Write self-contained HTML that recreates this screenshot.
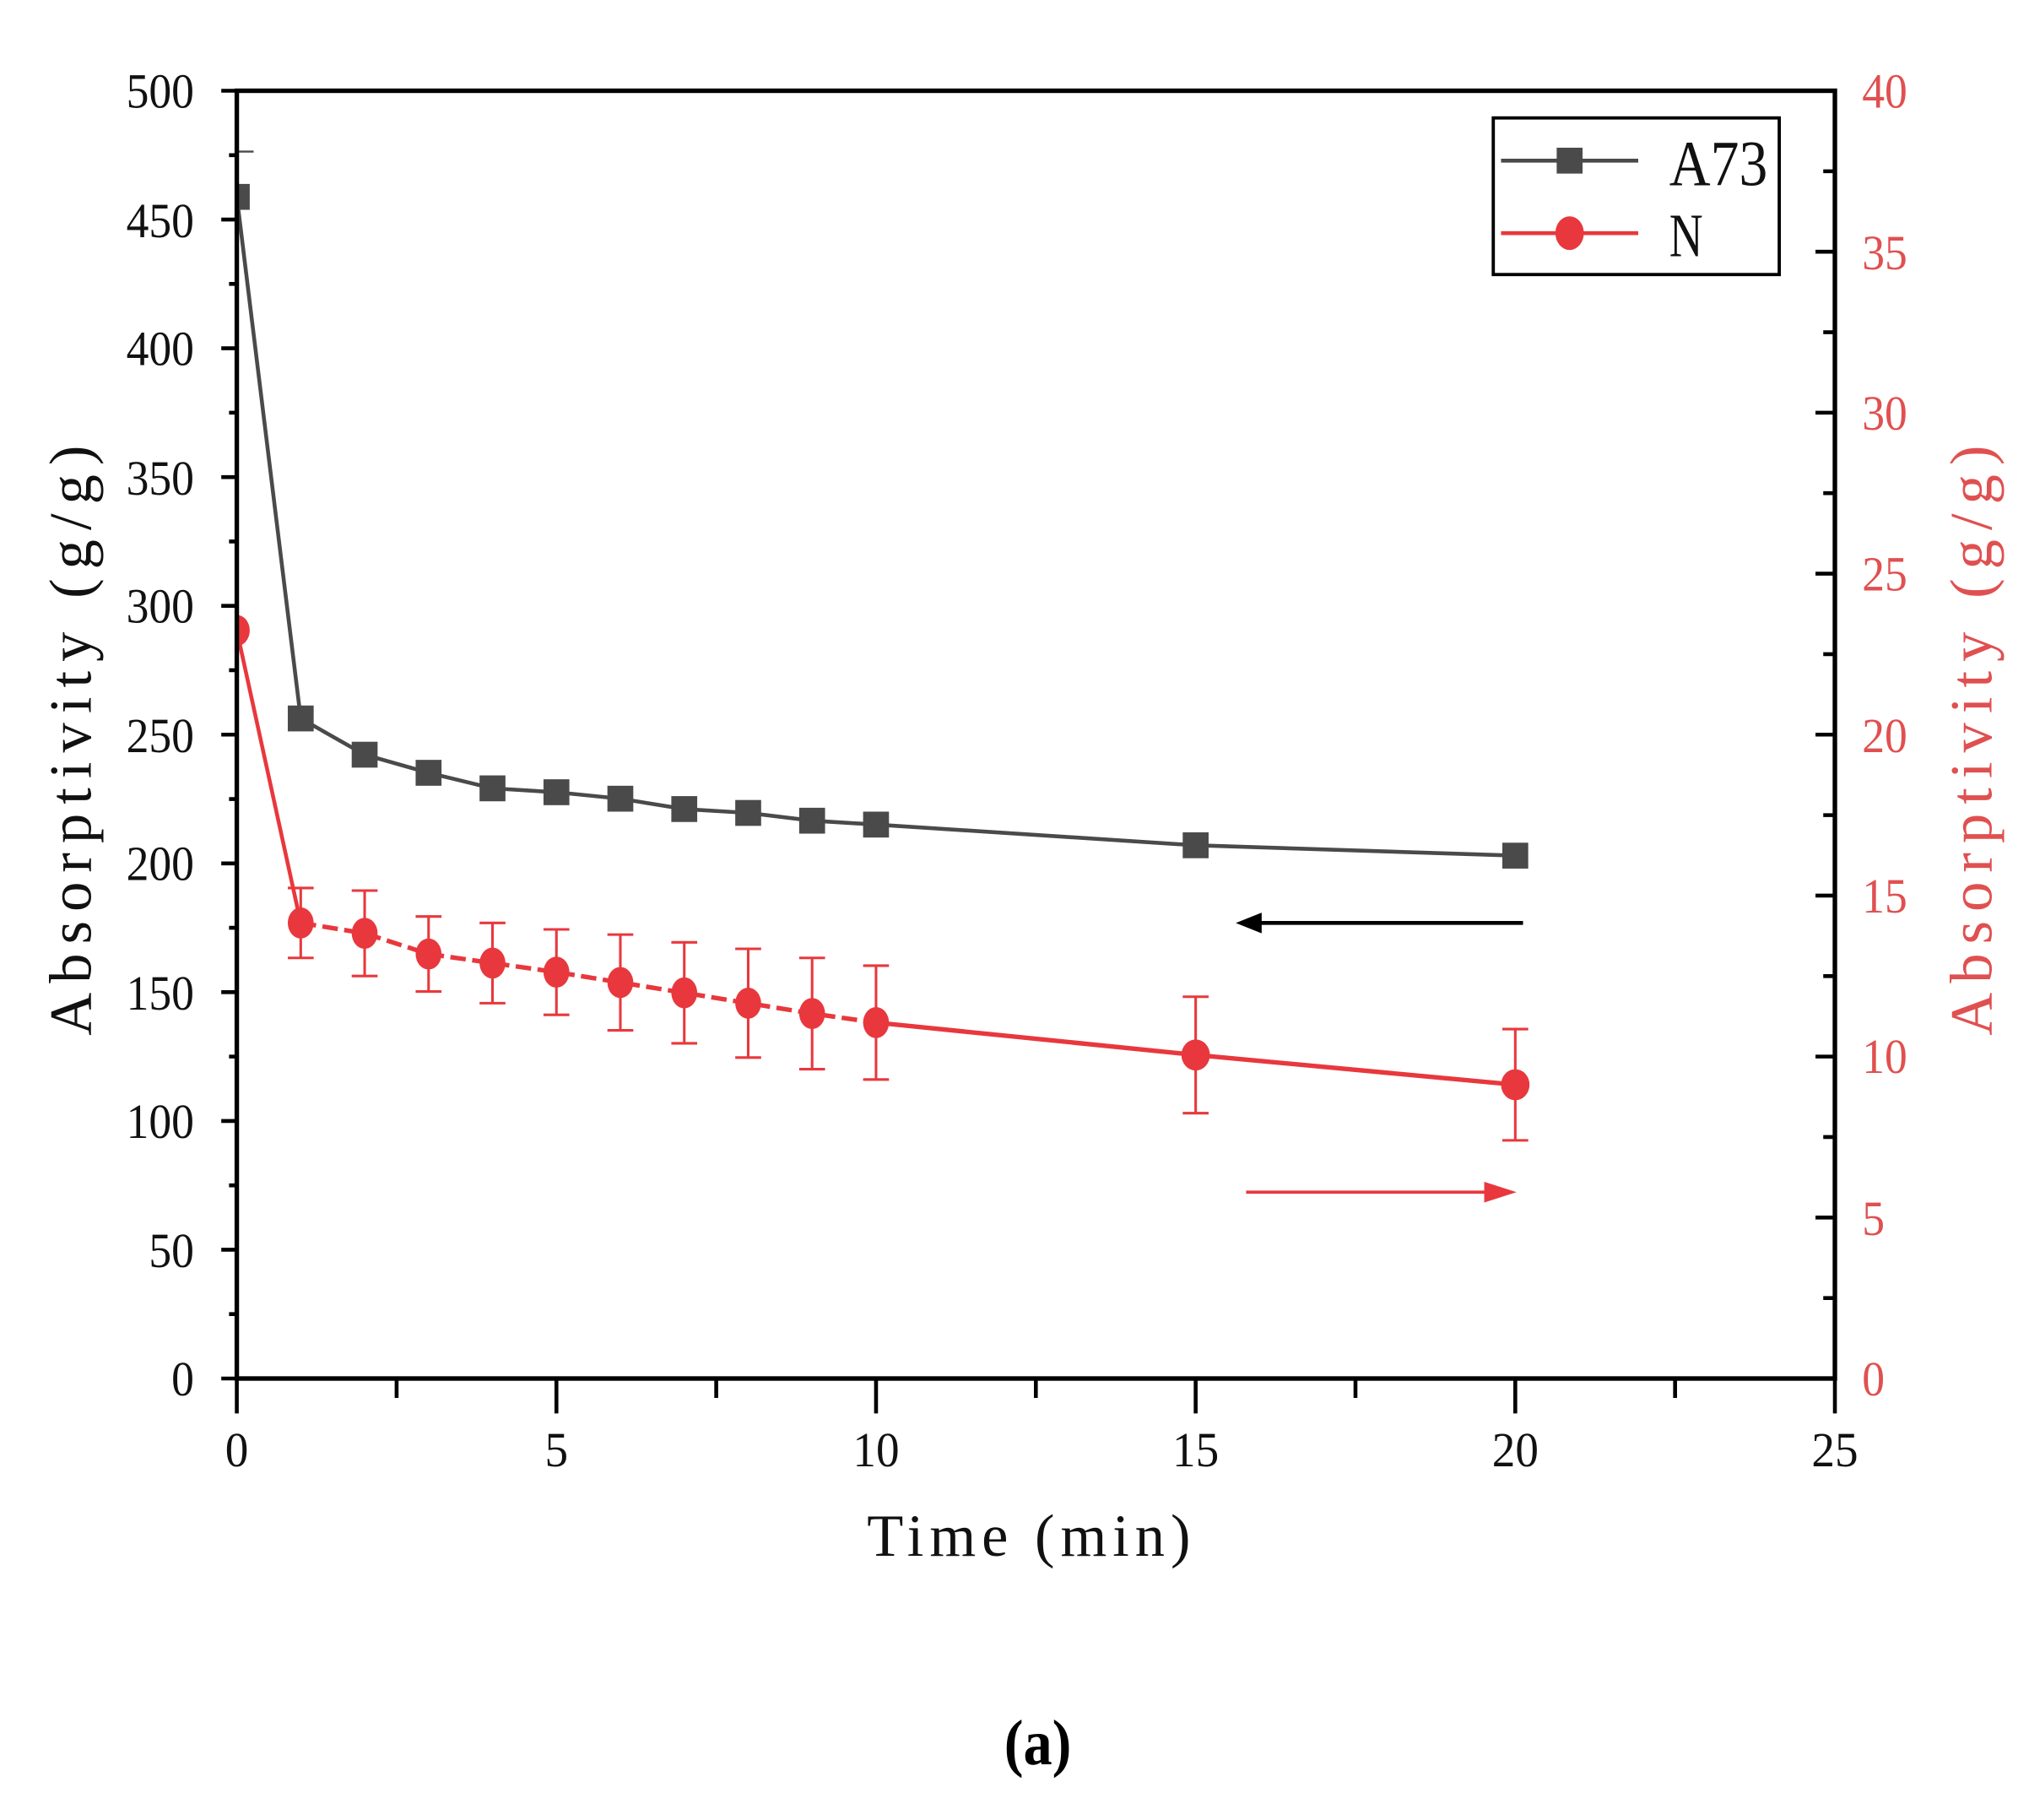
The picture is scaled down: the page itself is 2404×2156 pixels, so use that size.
<!DOCTYPE html>
<html><head><meta charset="utf-8"><style>html,body{margin:0;padding:0;background:#fff}svg{display:block}</style></head>
<body>
<svg xmlns="http://www.w3.org/2000/svg" width="2404" height="2156" viewBox="0 0 1568 1406" font-family="Liberation Serif, serif">
<defs><clipPath id="c"><rect x="183" y="70" width="1235" height="995"/></clipPath></defs>
<rect width="1568" height="1406" fill="#fff"/>
<g clip-path="url(#c)">
<polyline fill="none" stroke="#4a4a4a" stroke-width="3" points="183,152 232.4,555 281.8,583 331.2,597 380.6,609 430,612 479.4,617 528.8,625 578.2,628 627.6,634 677,637 924,653 1171,661"/>
<g fill="#4a4a4a">
<rect x="173" y="142" width="20" height="20"/>
<rect x="222.4" y="545" width="20" height="20"/><rect x="271.8" y="573" width="20" height="20"/>
<rect x="321.2" y="587" width="20" height="20"/><rect x="370.6" y="599" width="20" height="20"/>
<rect x="420" y="602" width="20" height="20"/><rect x="469.4" y="607" width="20" height="20"/>
<rect x="518.8" y="615" width="20" height="20"/><rect x="568.2" y="618" width="20" height="20"/>
<rect x="617.6" y="624" width="20" height="20"/><rect x="667" y="627" width="20" height="20"/>
<rect x="914" y="643" width="20" height="20"/><rect x="1161" y="651" width="20" height="20"/>
</g>
<line x1="183" y1="117" x2="196" y2="117" stroke="#4a4a4a" stroke-width="1.5"/>
<polyline fill="none" stroke="#e8383d" stroke-width="3" points="183,487 232.4,713"/>
<polyline fill="none" stroke="#e8383d" stroke-width="3.5" stroke-dasharray="12,5" points="232.4,713 281.8,721 331.2,737 380.6,744 430,751 479.4,759 528.8,767 578.2,775 627.6,783 677,790"/>
<polyline fill="none" stroke="#e8383d" stroke-width="3.5" points="677,790 924,815 1171,838"/>
<g stroke="#e8383d" stroke-width="2" fill="none">
<path d="M232.4,686V740M222.4,686H242.4M222.4,740H242.4"/>
<path d="M281.8,688V754M271.8,688H291.8M271.8,754H291.8"/>
<path d="M331.2,708V766M321.2,708H341.2M321.2,766H341.2"/>
<path d="M380.6,713V775M370.6,713H390.6M370.6,775H390.6"/>
<path d="M430,718V784M420,718H440M420,784H440"/>
<path d="M479.4,722V796M469.4,722H489.4M469.4,796H489.4"/>
<path d="M528.8,728V806M518.8,728H538.8M518.8,806H538.8"/>
<path d="M578.2,733V817M568.2,733H588.2M568.2,817H588.2"/>
<path d="M627.6,740V826M617.6,740H637.6M617.6,826H637.6"/>
<path d="M677,746V834M667,746H687M667,834H687"/>
<path d="M924,770V860M914,770H934M914,860H934"/>
<path d="M1171,795V881M1161,795H1181M1161,881H1181"/>
</g>
<g fill="#e8383d">
<ellipse cx="183" cy="487" rx="10" ry="12"/>
<ellipse cx="232.4" cy="713" rx="10" ry="12"/><ellipse cx="281.8" cy="721" rx="10" ry="12"/>
<ellipse cx="331.2" cy="737" rx="10" ry="12"/><ellipse cx="380.6" cy="744" rx="10" ry="12"/>
<ellipse cx="430" cy="751" rx="10" ry="12"/><ellipse cx="479.4" cy="759" rx="10" ry="12"/>
<ellipse cx="528.8" cy="767" rx="10" ry="12"/><ellipse cx="578.2" cy="775" rx="10" ry="12"/>
<ellipse cx="627.6" cy="783" rx="10" ry="12"/><ellipse cx="677" cy="790" rx="10" ry="12"/>
<ellipse cx="924" cy="815" rx="11" ry="12"/><ellipse cx="1171" cy="838" rx="11" ry="12"/>
</g>
</g>
<rect x="183" y="70" width="1235" height="995" fill="none" stroke="#000" stroke-width="3.5"/>
<g stroke="#000" stroke-width="3">
<path d="M171,70H183M171,169.5H183M171,269H183M171,368.5H183M171,468H183M171,567.5H183M171,667H183M171,766.5H183M171,866H183M171,965.5H183M171,1065H183"/>
<path d="M177,119.75H183M177,219.25H183M177,318.75H183M177,418.25H183M177,517.75H183M177,617.25H183M177,716.75H183M177,816.25H183M177,915.75H183M177,1015.25H183"/>
<path d="M1418,70H1403M1418,194.4H1403M1418,318.75H1403M1418,443.1H1403M1418,567.5H1403M1418,691.9H1403M1418,816.25H1403M1418,940.6H1403"/>
<path d="M1418,132.2H1409M1418,256.6H1409M1418,380.9H1409M1418,505.3H1409M1418,629.7H1409M1418,754.1H1409M1418,878.4H1409M1418,1002.8H1409"/>
<path d="M183,1065V1092M430,1065V1092M677,1065V1092M924,1065V1092M1171,1065V1092M1418,1065V1092"/>
<path d="M306.5,1065V1080M553.5,1065V1080M800.5,1065V1080M1047.5,1065V1080M1294.5,1065V1080"/>
</g>
<g font-size="38" text-anchor="end" fill="#111" transform="translate(150,0) scale(0.92,1) translate(-150,0)">
<text x="150" y="83">500</text><text x="150" y="183">450</text><text x="150" y="282">400</text>
<text x="150" y="382">350</text><text x="150" y="481">300</text><text x="150" y="581">250</text>
<text x="150" y="680">200</text><text x="150" y="780">150</text><text x="150" y="879">100</text>
<text x="150" y="979">50</text><text x="150" y="1078">0</text>
</g>
<g font-size="38" fill="#e05050" transform="translate(1439,0) scale(0.92,1) translate(-1439,0)">
<text x="1439" y="83">40</text><text x="1439" y="208">35</text><text x="1439" y="332">30</text>
<text x="1439" y="456">25</text><text x="1439" y="581">20</text><text x="1439" y="705">15</text>
<text x="1439" y="829">10</text><text x="1439" y="954">5</text><text x="1439" y="1078">0</text>
</g>
<g font-size="38" text-anchor="middle" fill="#111">
<text x="183" y="1133" textLength="18" lengthAdjust="spacingAndGlyphs">0</text><text x="430" y="1133" textLength="18" lengthAdjust="spacingAndGlyphs">5</text><text x="677" y="1133" textLength="36" lengthAdjust="spacingAndGlyphs">10</text>
<text x="924" y="1133" textLength="36" lengthAdjust="spacingAndGlyphs">15</text><text x="1171" y="1133" textLength="36" lengthAdjust="spacingAndGlyphs">20</text><text x="1418" y="1133" textLength="36" lengthAdjust="spacingAndGlyphs">25</text>
</g>
<text x="795" y="1202" font-size="46" text-anchor="middle" textLength="250" lengthAdjust="spacing" fill="#111">Time (min)</text>
<text transform="translate(70,572) rotate(-90)" font-size="46" text-anchor="middle" textLength="456" lengthAdjust="spacing" fill="#111">Absorptivity (g/g)</text>
<text transform="translate(1539,572) rotate(-90)" font-size="46" text-anchor="middle" textLength="456" lengthAdjust="spacing" fill="#e05050">Absorptivity (g/g)</text>
<line x1="1177" y1="713" x2="972" y2="713" stroke="#000" stroke-width="3"/>
<polygon points="955,713 975,705 975,721" fill="#000"/>
<line x1="963" y1="921" x2="1152" y2="921" stroke="#e8383d" stroke-width="2.5"/>
<polygon points="1172,921 1147,913 1147,929" fill="#e8383d"/>
<rect x="1154" y="91" width="221" height="121" fill="#fff" stroke="#000" stroke-width="2.5"/>
<line x1="1160" y1="124" x2="1266" y2="124" stroke="#4a4a4a" stroke-width="3"/>
<rect x="1203" y="114" width="20" height="20" fill="#4a4a4a"/>
<line x1="1160" y1="180" x2="1266" y2="180" stroke="#e8383d" stroke-width="3"/>
<ellipse cx="1213" cy="180" rx="11" ry="13" fill="#e8383d"/>
<text x="1290" y="143" font-size="50" textLength="76" lengthAdjust="spacingAndGlyphs" fill="#111">A73</text>
<text x="1290" y="198" font-size="48" textLength="26" lengthAdjust="spacingAndGlyphs" fill="#111">N</text>
<text x="802" y="1363" font-size="50" font-weight="bold" text-anchor="middle" textLength="52" lengthAdjust="spacingAndGlyphs" fill="#000">(a)</text>
</svg>
</body></html>
